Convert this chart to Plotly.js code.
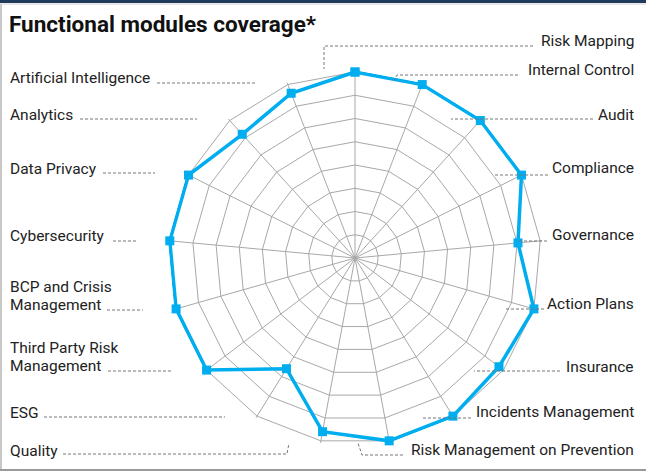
<!DOCTYPE html>
<html>
<head>
<meta charset="utf-8">
<script src="https://cdn.plot.ly/plotly-3.0.1.min.js"></script>
<style>
  html, body { margin: 0; padding: 0; background: #fff; }
  #chart { width: 646px; height: 472px; }
</style>
</head>
<body>
<div id="chart"></div>
<script>
// modules, clockwise from the top
const modules = [
    'Risk Mapping', 'Internal Control', 'Audit', 'Compliance', 'Governance',
    'Action Plans', 'Insurance', 'Incidents Management', 'Risk Management on Prevention',
    'Quality', 'ESG', 'Third Party Risk Management', 'BCP and Crisis Management',
    'Cybersecurity', 'Data Privacy', 'Analytics', 'Artificial Intelligence'
];
const coverage = [100, 100, 100, 100, 88, 100, 97, 100, 100, 95, 70, 100, 100, 100, 100, 90, 95];

// label text as shown (line breaks)
const labelText = [
    'Risk Mapping', 'Internal Control', 'Audit', 'Compliance', 'Governance',
    'Action Plans', 'Insurance', 'Incidents Management', 'Risk Management on Prevention',
    'Quality', 'ESG', 'Third Party Risk<br>Management', 'BCP and Crisis<br>Management',
    'Cybersecurity', 'Data Privacy', 'Analytics', 'Artificial Intelligence'
];

const W = 646, H = 472;
const px = x => x / W;
const py = y => 1 - y / H;

// radar centre and radius of the 100% ring, in pixels
const cx = 355, cy = 258, r100 = 186, pad = 2;
const rMax = 100 * (r100 + pad) / r100;

// label placement: side, text centre y, leader line points (pixels)
const labelLayout = [
    { side: 'r', y: 41,  pts: [[533, 46], [324, 46], [324, 69]] },
    { side: 'r', y: 70,  pts: [[518, 75], [397, 75], [393, 82]] },
    { side: 'r', y: 115, pts: [[593, 119], [451, 119]] },
    { side: 'r', y: 168, pts: [[548, 175], [493, 175]] },
    { side: 'r', y: 235, pts: [[547, 241], [517, 241]] },
    { side: 'r', y: 304, pts: [[544, 309], [506, 309]] },
    { side: 'r', y: 367, pts: [[560, 371], [474, 371]] },
    { side: 'r', y: 412, pts: [[471, 418], [423, 418]] },
    { side: 'r', y: 450, pts: [[403, 455], [362, 455], [358, 443]] },
    { side: 'l', y: 451, pts: [[63, 454], [287, 454], [289, 443]] },
    { side: 'l', y: 413, pts: [[44, 417], [225, 417]] },
    { side: 'l', y: 357, pts: [[108, 371], [173, 371]] },
    { side: 'l', y: 296, pts: [[107, 310], [143, 310]] },
    { side: 'l', y: 236, pts: [[113, 241], [137, 241]] },
    { side: 'l', y: 169, pts: [[103, 173], [155, 173]] },
    { side: 'l', y: 115, pts: [[80, 119], [197, 119]] },
    { side: 'l', y: 78,  pts: [[157, 83], [255, 83]] }
];
const lineGap = 18;

const annotations = [{
    text: '<b>Functional modules coverage*</b>',
    xref: 'paper', yref: 'paper', x: px(7), y: py(24),
    xanchor: 'left', yanchor: 'middle', showarrow: false,
    font: { family: 'Roboto, sans-serif', size: 22.5, color: '#111' }
}];

const shapes = [
    // frame
    { type: 'rect', xref: 'paper', yref: 'paper', x0: 0, x1: 1, y0: py(3), y1: 1,
      fillcolor: '#1f3b5e', line: { width: 0 } },
    { type: 'line', xref: 'paper', yref: 'paper', x0: 0, x1: 1, y0: py(4), y1: py(4),
      line: { color: '#d0d0d0', width: 1 } },
    { type: 'line', xref: 'paper', yref: 'paper', x0: px(1), x1: px(1), y0: py(4), y1: py(470),
      line: { color: '#c8c8c8', width: 2 } },
    { type: 'line', xref: 'paper', yref: 'paper', x0: 0, x1: 1, y0: py(470), y1: py(470),
      line: { color: '#9a9a9a', width: 2 } }
];

labelLayout.forEach((l, i) => {
    const lines = labelText[i].split('<br>');
    lines.forEach((t, k) => {
        annotations.push({
            text: t,
            xref: 'paper', yref: 'paper',
            x: l.side === 'r' ? px(636) : px(8),
            y: py(l.y + (k - (lines.length - 1) / 2) * lineGap),
            xanchor: l.side === 'r' ? 'right' : 'left', yanchor: 'middle',
            showarrow: false,
            font: { family: 'Roboto, sans-serif', size: 15.5, color: '#222' }
        });
    });
    const path = l.pts.map((p, j) => (j ? 'L' : 'M') + px(p[0]) + ',' + py(p[1])).join(' ');
    shapes.push({
        type: 'path', xref: 'paper', yref: 'paper', path: path,
        line: { color: '#777', width: 1, dash: '3px,2px' }
    });
});

const R = r100 + pad;
Plotly.newPlot('chart', [{
    type: 'scatterpolar',
    r: coverage.concat(coverage[0]),
    theta: modules.concat(modules[0]),
    mode: 'lines+markers',
    cliponaxis: false,
    line: { color: '#00aeef', width: 3.5 },
    marker: { symbol: 'square', size: 9, color: '#00aeef' },
    hoverinfo: 'none'
}], {
    width: W, height: H,
    margin: { l: 0, r: 0, t: 0, b: 0 },
    showlegend: false,
    paper_bgcolor: '#fff',
    polar: {
        domain: { x: [px(cx - R), px(cx + R)], y: [py(cy + R), py(cy - R)] },
        gridshape: 'linear',
        bgcolor: 'rgba(0,0,0,0)',
        angularaxis: {
            direction: 'clockwise', rotation: 90,
            categoryorder: 'array', categoryarray: modules,
            showticklabels: false, ticks: '', layer: 'below traces',
            gridcolor: '#a8a8a8', gridwidth: 1,
            showline: false
        },
        radialaxis: {
            range: [0, rMax], tick0: 0, dtick: 12.5, layer: 'below traces',
            showticklabels: false, ticks: '', showline: false,
            gridcolor: '#a8a8a8', gridwidth: 1
        }
    },
    annotations: annotations,
    shapes: shapes
}, { displayModeBar: false, staticPlot: true });
</script>
</body>
</html>
